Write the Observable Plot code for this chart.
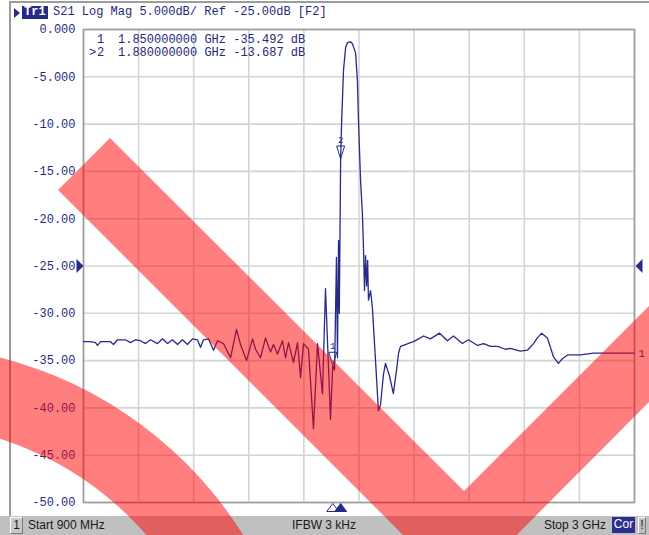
<!DOCTYPE html>
<html>
<head>
<meta charset="utf-8">
<script src="https://cdn.jsdelivr.net/npm/d3@7"></script>
<script src="https://cdn.jsdelivr.net/npm/@observablehq/plot@0.6"></script>
<style>
  html, body { margin: 0; padding: 0; background: #fff; }
  #wrap { position: relative; width: 649px; height: 535px; overflow: hidden; background: #fff; }
  .abs { position: absolute; }
  .mono { font-family: "Liberation Mono", "DejaVu Sans Mono", monospace; font-size: 12px; color: #24287e; white-space: pre; line-height: 13px; }
  #footer { left: 0; top: 516px; width: 649px; height: 19px; background: #c0c0c0; font-family: "Liberation Sans", Arial, sans-serif; font-size: 12px; color: #1a1a1a; }
  #footer span { position: absolute; top: 2px; line-height: 15px; white-space: pre; }
</style>
</head>
<body>
<div id="wrap">
  <div class="abs" style="left:9px;top:1px;width:640px;height:2px;background:#9c9c9c"></div>
  <div class="abs" style="left:9px;top:1px;width:2px;height:515px;background:#9c9c9c"></div>
  <div id="chart" class="abs" style="left:0;top:0"></div>
  <div id="header"></div>
  <div id="readout"></div>
  <div id="footer" class="abs"></div>
  <svg id="overlay" class="abs" style="left:0;top:0;pointer-events:none" width="649" height="535"></svg>
</div>
<script>
// ---------- data ----------
const freqMHz = [
  900, 926.7, 945.7, 953.4, 964.8, 1002.9, 1014.3, 1029.6, 1060.1, 1079.1,
  1098.2, 1117.2, 1136.3, 1155.4, 1182.0, 1201.1, 1220.2, 1239.2, 1258.3, 1277.3,
  1296.4, 1315.4, 1334.5, 1345.9, 1357.4, 1376.4, 1395.5, 1410.7, 1433.6, 1460.3,
  1483.1, 1498.4, 1521.2, 1544.1, 1555.5, 1574.6, 1593.7, 1612.7, 1624.1, 1639.4,
  1658.4, 1669.9, 1681.3, 1700.4, 1715.6, 1727.1, 1738.5, 1757.5, 1776.6, 1791.8,
  1810.9, 1822.3, 1830.0, 1841.4, 1850, 1857, 1864, 1868, 1872, 1875,
  1880, 1884, 1891, 1899, 1906, 1918, 1925, 1937, 1944, 1948,
  1956, 1963, 1967, 1971, 1975, 1979, 1983, 1986, 1994, 2001,
  2013, 2024, 2032, 2043, 2051, 2066, 2081, 2093, 2101, 2108,
  2127, 2146, 2158, 2177, 2196, 2222, 2257, 2287, 2310, 2344,
  2367, 2402, 2425, 2451, 2478, 2508, 2527, 2565, 2592, 2615,
  2630, 2646, 2668, 2691, 2710, 2725, 2745, 2794, 2844, 2920, 3000
];
const s21dB = [
  -33.0, -33.0, -33.1, -33.4, -33.0, -33.0, -33.3, -32.8, -32.8, -33.1,
  -32.8, -32.9, -33.2, -32.8, -33.2, -32.7, -33.2, -32.8, -33.3, -32.8,
  -33.3, -32.7, -32.8, -33.6, -32.8, -32.7, -33.9, -32.9, -33.2, -34.7,
  -31.7, -33.3, -35.0, -32.7, -33.8, -34.7, -32.6, -34.1, -33.3, -34.3,
  -32.9, -34.7, -33.1, -35.2, -33.1, -36.8, -33.2, -33.8, -42.2, -33.2,
  -38.5, -27.4, -33.0, -41.2, -35.5, -36.0, -24.1, -34.7, -22.3, -30.0,
  -13.7, -9.6, -4.3, -1.9, -1.4, -1.3, -1.5, -2.5, -5.4, -9.6,
  -16.0, -19.5, -23.0, -27.6, -23.9, -27.1, -24.4, -28.6, -27.6, -29.4,
  -35.0, -40.3, -39.7, -36.5, -35.3, -36.6, -38.5, -36.0, -34.2, -33.5,
  -33.3, -33.1, -33.0, -32.7, -32.4, -32.7, -32.1, -32.9, -32.4, -33.2,
  -32.8, -33.4, -33.2, -33.5, -33.5, -33.8, -33.7, -34.0, -33.9, -33.2,
  -32.6, -32.1, -32.6, -34.6, -35.3, -34.8, -34.4, -34.4, -34.2, -34.2, -34.2
];
const xTicks = [900, 1110, 1320, 1530, 1740, 1950, 2160, 2370, 2580, 2790, 3000];
const yTicks = [0, -5, -10, -15, -20, -25, -30, -35, -40, -45, -50];
const yTickLabels = ["0.000", "-5.000", "-10.00", "-15.00", "-20.00", "-25.00", "-30.00", "-35.00", "-40.00", "-45.00", "-50.00"];
const markerIds = ["1", "2"];
const markerFreq = [1850, 1880];
const markerDb = [-35.492, -13.687];
const markerFreqText = ["1.850000000 GHz", "1.880000000 GHz"];
const markerDbText = ["-35.492 dB", "-13.687 dB"];
const refLevel = -25;
const headerText = "S21 Log Mag 5.000dB/ Ref -25.00dB [F2]";
const footerTexts = ["Start 900 MHz", "IFBW 3 kHz", "Stop 3 GHz"];

// ---------- build ----------
const navy = "#262b86";
const trace = freqMHz.map((f, i) => ({f, db: s21dB[i]}));
const markers = markerIds.map((id, i) => ({id, f: markerFreq[i], db: markerDb[i]}));
const labelOf = new Map(yTicks.map((t, i) => [t, yTickLabels[i]]));

const triRight = {draw(c) { c.moveTo(-3.5, -7); c.lineTo(3.5, 0); c.lineTo(-3.5, 7); c.closePath(); }};
const triLeft = {draw(c) { c.moveTo(3.5, -7); c.lineTo(-3.5, 0); c.lineTo(3.5, 7); c.closePath(); }};
const triDown = {draw(c) { c.moveTo(-4, -13); c.lineTo(4, -13); c.lineTo(0, 0); c.closePath(); }};
const triUp = {draw(c) { c.moveTo(0, 0); c.lineTo(6, 8); c.lineTo(-6, 8); c.closePath(); }};

const xMin = xTicks[0], xMax = xTicks[xTicks.length - 1];
const yMin = yTicks[yTicks.length - 1], yMax = yTicks[0];

const chart = Plot.plot({
  width: 649, height: 535,
  marginLeft: 83, marginRight: 15, marginTop: 29, marginBottom: 33,
  style: {background: "transparent", fontFamily: "'Liberation Mono', 'DejaVu Sans Mono', monospace", fontSize: "12px", overflow: "visible"},
  x: {domain: [xMin, xMax], axis: null, label: null},
  y: {domain: [yMin, yMax], axis: null, label: null},
  marks: [
    Plot.gridX(xTicks, {stroke: "#d4d4d4", strokeOpacity: 1, strokeWidth: 1.6}),
    Plot.gridY(yTicks, {stroke: "#d4d4d4", strokeOpacity: 1, strokeWidth: 1.6}),
    Plot.frame({stroke: "#9c9c9c", strokeWidth: 1.6}),
    Plot.axisY(yTicks, {anchor: "left", label: null, tickSize: 0, tickPadding: 8, tickFormat: d => labelOf.get(d), fill: navy, fontSize: 12}),
    Plot.line(trace, {x: "f", y: "db", stroke: navy, strokeWidth: 1.3}),
    Plot.dot(markers, {x: "f", y: "db", symbol: triDown, fill: "none", stroke: navy, strokeWidth: 1}),
    Plot.text(markers, {x: "f", y: "db", text: "id", dy: -19, fill: navy, fontSize: 9}),
    Plot.dot(markers.slice(0, 1), {x: "f", y: () => yMin, symbol: triUp, fill: "white", stroke: navy, strokeWidth: 1, dy: 1}),
    Plot.dot(markers.slice(1), {x: "f", y: () => yMin, symbol: triUp, fill: navy, stroke: navy, strokeWidth: 1, dy: 1}),
    Plot.dot([refLevel], {x: () => xMin, y: d => d, symbol: triRight, fill: navy, stroke: null, dx: -3.5}),
    Plot.dot([refLevel], {x: () => xMax, y: d => d, symbol: triLeft, fill: navy, stroke: null, dx: 4.5}),
    Plot.text(trace.slice(-1), {x: "f", y: "db", text: () => "1", dx: 4, textAnchor: "start", fill: navy, fontSize: 11})
  ]
});
document.getElementById("chart").appendChild(chart);

// header
const header = document.getElementById("header");
header.innerHTML =
  `<div class="abs" style="left:14px;top:8px;width:0;height:0;border-top:5px solid transparent;border-bottom:5px solid transparent;border-left:6px solid ${navy}"></div>` +
  `<div class="abs mono" style="left:22px;top:6px;height:13px;padding:0 2px;background:${navy};color:#fff;font-weight:bold">Tr1</div>` +
  `<div class="abs mono" style="left:53px;top:6px">${headerText}</div>`;

// marker readout
const readout = document.getElementById("readout");
readout.innerHTML = markers.map((m, i) =>
  (i === 1 ? `<div class="abs mono" style="left:89px;top:${34 + i * 13}px">&gt;</div>` : "") +
  `<div class="abs mono" style="left:97px;top:${34 + i * 13}px">${m.id}</div>` +
  `<div class="abs mono" style="left:118px;top:${34 + i * 13}px">${markerFreqText[i]} ${markerDbText[i]}</div>`
).join("");

// footer
const footer = document.getElementById("footer");
footer.innerHTML =
  `<span style="left:10px;top:1px;width:11px;height:15px;text-align:center;border:1px solid #fff;border-right-color:#7a7a7a;border-bottom-color:#7a7a7a;background:#c8c8c8">1</span>` +
  `<span style="left:28px">${footerTexts[0]}</span>` +
  `<span style="left:292px">${footerTexts[1]}</span>` +
  `<span style="left:544px">${footerTexts[2]}</span>` +
  `<span style="left:612px;top:1px;width:23px;height:16px;text-align:center;background:#2a2f92;color:#fff">Cor</span>` +
  `<span style="left:638px;top:1px;width:6px;height:15px;text-align:center;border:1px solid #fff;border-right-color:#7a7a7a;border-bottom-color:#7a7a7a">!</span>`;

// decorative overlay (watermark shapes, not data)
const ov = d3.select("#overlay");
const red = "rgba(255,0,0,0.5)";
ov.append("path")
  .attr("d", "M110,138 L464,491 L720,235 L815,235 L460,592 L58,190 Z")
  .attr("fill", red);
ov.append("path")
  .attr("transform", "translate(-100,750)")
  .attr("d", d3.arc()({innerRadius: 327, outerRadius: 405, startAngle: 0, endAngle: Math.PI / 2}))
  .attr("fill", red);
</script>
</body>
</html>
